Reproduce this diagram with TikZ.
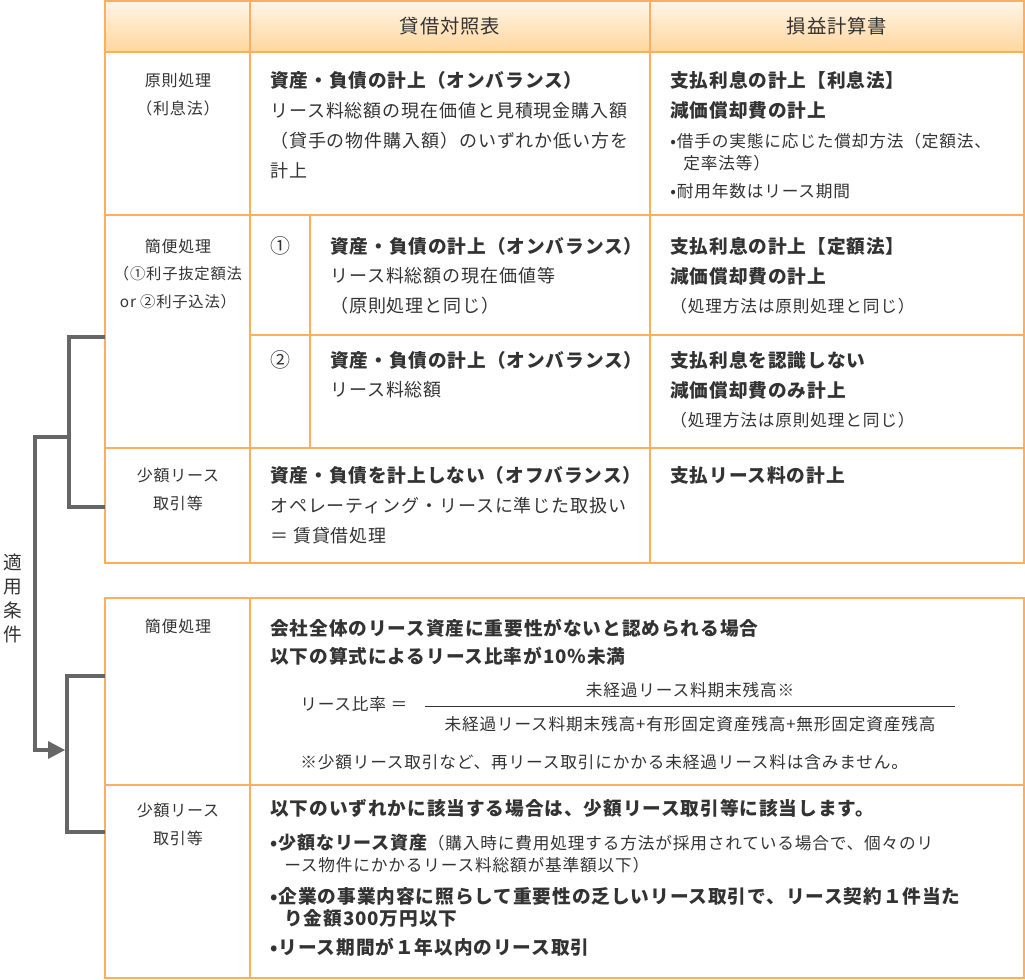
\documentclass[tikz,border=0pt]{standalone}
\usepackage{fontspec}
\setmainfont{Noto Sans CJK JP}[LetterSpace=5]
\definecolor{org}{HTML}{FFAE5E}
\definecolor{hdtop}{HTML}{FFF6E8}
\definecolor{hdbot}{HTML}{FFD69E}
\definecolor{txt}{HTML}{333333}
\definecolor{brk}{HTML}{666666}
\begin{document}
\begin{tikzpicture}[x=0.75pt,y=-0.75pt,
  t/.style={anchor=west,inner sep=0pt,text=txt,font=\fontsize{13.5}{15}\selectfont},
  b/.style={t,font=\fontsize{14}{16}\selectfont\bfseries},
  s/.style={t,font=\fontsize{12.5}{14}\selectfont},
  c/.style={t,anchor=center,font=\fontsize{12}{14}\selectfont},
  ln/.style={draw=org,line width=1.5pt},
  br/.style={draw=brk,line width=3.6pt}]
\useasboundingbox (0,0) rectangle (1025,979);
% header
\shade[top color=hdtop,bottom color=hdbot] (105,0) rectangle (1025,52);
\draw[ln] (105,1) rectangle (1024,563);
\draw[ln] (105,52) -- (1024,52);
\draw[ln] (250,1) -- (250,563);
\draw[ln] (650,1) -- (650,563);
\draw[ln] (105,215) -- (1024,215);
\draw[ln] (250,335) -- (1024,335);
\draw[ln] (105,448) -- (1024,448);
\draw[ln] (310,215) -- (310,448);
\draw[ln] (105,598) rectangle (1024,978);
\draw[ln] (250,598) -- (250,978);
\draw[ln] (105,785) -- (1024,785);
% header texts
\node[c,font=\fontsize{14.5}{16}\selectfont] (h1) at (450,26) {貸借対照表};
\node[c,font=\fontsize{14.5}{16}\selectfont] (h2) at (837,26) {損益計算書};
% row1
\node[c] (r1a) at (178,80) {原則処理};
\node[c] (r1b) at (178,108) {（利息法）};
\node[b] (a1) at (270,80) {資産・負債の計上（オンバランス）};
\node[t] (a2) at (270,111) {リース料総額の現在価値と見積現金購入額};
\node[t] (a3) at (270,141) {（貸手の物件購入額）のいずれか低い方を};
\node[t] (a4) at (270,171) {計上};
\node[b] (p1) at (670,80) {支払利息の計上【利息法】};
\node[b] (p2) at (670,110) {減価償却費の計上};
\node[s] (p3) at (670,141) {•借手の実態に応じた償却方法（定額法、};
\node[s] (p4) at (683,163) {定率法等）};
\node[s] (p5) at (670,191) {•耐用年数はリース期間};
% row2
\node[c] (r2a) at (178,246) {簡便処理};
\node[c,font=\fontsize{11.5}{14}\selectfont] (r2b) at (178,274) {（①利子抜定額法};
\node[c,font=\fontsize{11.5}{14}\selectfont] (r2c) at (178,302) {or ②利子込法）};
\node[c,font=\fontsize{15}{16}\selectfont] (n1) at (280,246) {①};
\node[b] (b1) at (330,246) {資産・負債の計上（オンバランス）};
\node[t] (b2) at (330,276) {リース料総額の現在価値等};
\node[t] (b3) at (330,306) {（原則処理と同じ）};
\node[b] (q1) at (670,246) {支払利息の計上【定額法】};
\node[b] (q2) at (670,276) {減価償却費の計上};
\node[s] (q3) at (670,306) {（処理方法は原則処理と同じ）};
% row3
\node[c,font=\fontsize{15}{16}\selectfont] (n2) at (280,360) {②};
\node[b] (c1) at (330,360) {資産・負債の計上（オンバランス）};
\node[t] (c2) at (330,390) {リース料総額};
\node[b] (u1) at (670,360) {支払利息を認識しない};
\node[b] (u2) at (670,390) {減価償却費のみ計上};
\node[s] (u3) at (670,420) {（処理方法は原則処理と同じ）};
% row4
\node[c] (r4a) at (178,475) {少額リース};
\node[c] (r4b) at (178,503) {取引等};
\node[b] (d1) at (270,475) {資産・負債を計上しない（オフバランス）};
\node[t] (d2) at (270,506) {オペレーティング・リースに準じた取扱い};
\node[t] (d3) at (270,536) {＝ 賃貸借処理};
\node[b] (v1) at (670,475) {支払リース料の計上};
% table2
\node[c] (s1) at (178,626) {簡便処理};
\node[b] (e1) at (270,628) {会社全体のリース資産に重要性がないと認められる場合};
\node[b] (e2) at (270,656) {以下の算式によるリース比率が10％未満};
\node[s] (e3) at (300,704) {リース比率 ＝};
\node[s,anchor=center] (num) at (690,690) {未経過リース料期末残高※};
\node[s,anchor=center] (den) at (690,724) {未経過リース料期末残高+有形固定資産残高+無形固定資産残高};
\draw[txt,line width=0.6pt] (425,706) -- (955,706);
\node[s] (e4) at (300,762) {※少額リース取引など、再リース取引にかかる未経過リース料は含みません。};
\node[c] (s2a) at (178,810) {少額リース};
\node[c] (s2b) at (178,838) {取引等};
\node[b] (f1) at (270,808) {以下のいずれかに該当する場合は、少額リース取引等に該当します。};
\node[t] (f2) at (270,843) {{\bfseries •少額なリース資産}{\fontsize{12.5}{14}\selectfont（購入時に費用処理する方法が採用されている場合で、個々のリ}};
\node[s] (f3) at (284,865) {ース物件にかかるリース料総額が基準額以下）};
\node[b] (f4) at (270,896) {•企業の事業内容に照らして重要性の乏しいリース取引で、リース契約１件当た};
\node[b] (f5) at (284,918) {り金額300万円以下};
\node[b] (f6) at (270,947) {•リース期間が１年以内のリース取引};
% brackets
\coordinate (u0) at (105,337); \coordinate (u3) at (105,507);
\coordinate (l0) at (105,676); \coordinate (l3) at (105,832);
\draw[br] (u0) -- (69,337) -- (69,507) -- (u3);
\draw[br] (l0) -- (67,676) -- (67,832) -- (l3);
\coordinate (m0) at (69,437);
\draw[br] (m0) -- (35,437) -- (35,750) -- (50,750);
\fill[brk] (48,741) -- (65,750) -- (48,759) -- cycle;
\node[c,font=\fontsize{14}{18}\selectfont,align=center] (lbl) at (13,598) {適\\用\\条\\件};
\end{tikzpicture}
\end{document}
